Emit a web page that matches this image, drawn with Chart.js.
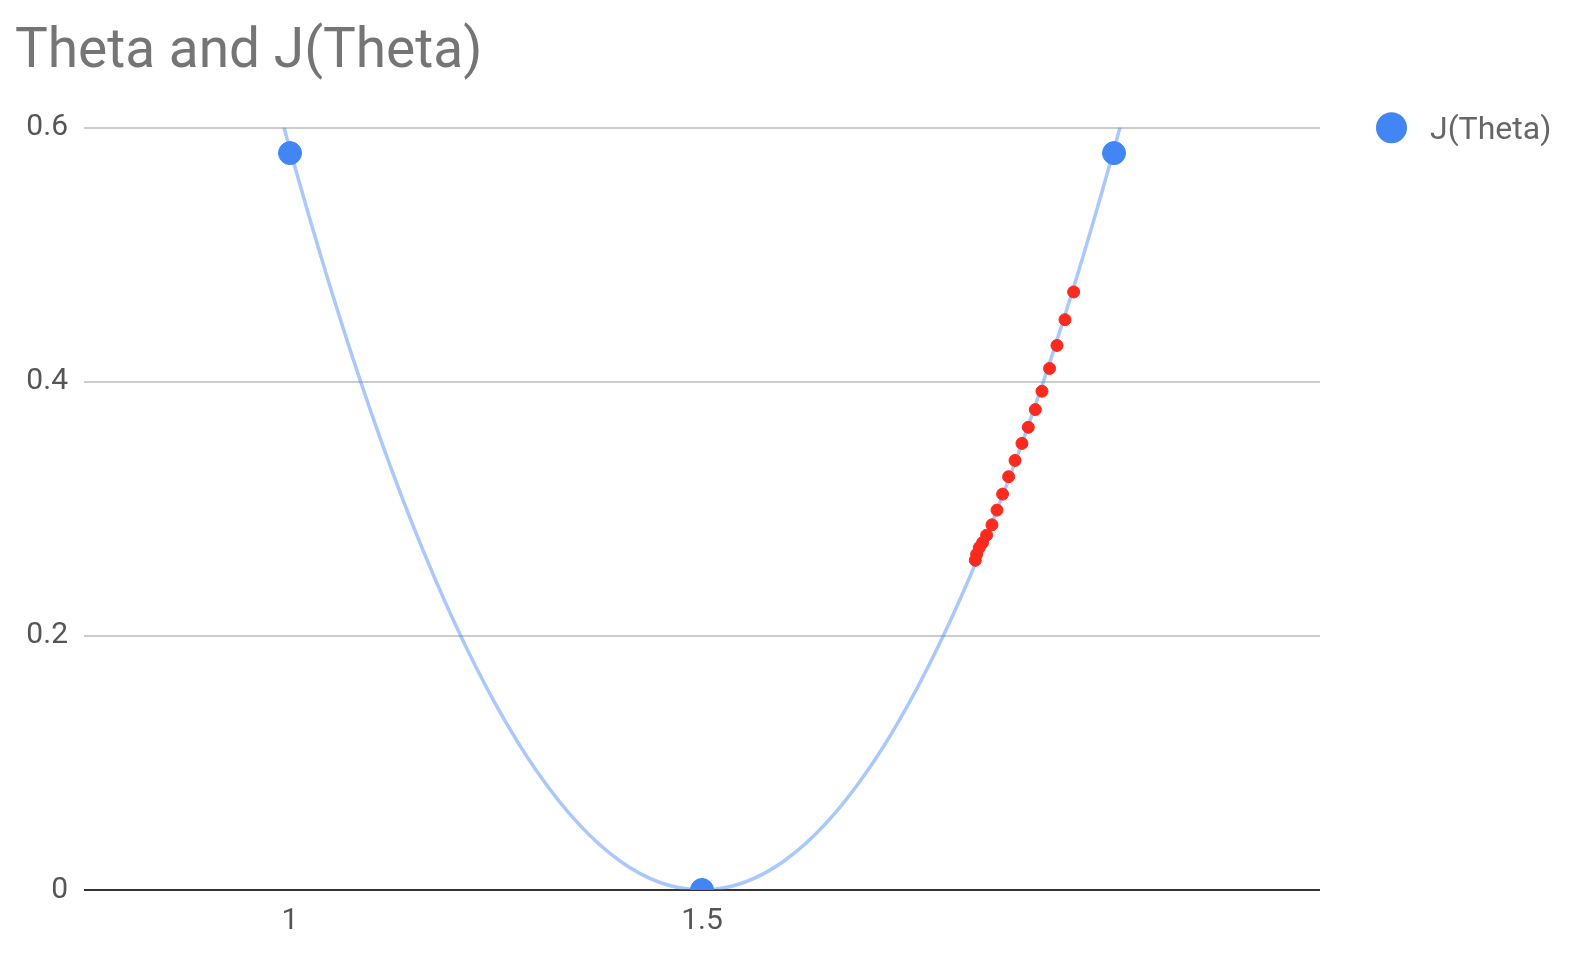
<!DOCTYPE html>
<html>
<head>
<meta charset="utf-8">
<title>Theta and J(Theta)</title>
<script src="https://cdn.jsdelivr.net/npm/chart.js@4.4.1/dist/chart.umd.min.js"></script>
<style>
    html, body { margin: 0; padding: 0; background: #fff; }
    #wrap { position: relative; width: 1580px; height: 954px; }
</style>
</head>
<body>
<div id="wrap"><canvas id="thetaChart"></canvas></div>
<script>
// J(Theta) samples (blue points)
const thetaValues = [1, 1.5, 2]
const costValues = [0.58, 0, 0.58]

// polynomial trendline
const trendTheta = [0.9, 1.0, 1.1, 1.2, 1.3, 1.4, 1.5, 1.6, 1.7, 1.8, 1.9, 2.0, 2.1]
const trendCost = [0.84, 0.583, 0.373, 0.21, 0.093, 0.023, 0, 0.023, 0.093, 0.21, 0.373, 0.583, 0.84]

// gradient descent steps (red dots)
const stepTheta = [1.951, 1.9405, 1.9308, 1.9218, 1.9126, 1.9045, 1.896, 1.8883, 1.8799, 1.8721,
    1.8648, 1.858, 1.8519, 1.8454, 1.8405, 1.8365, 1.8333, 1.8317]
const stepCost = [0.4707, 0.4489, 0.4286, 0.4105, 0.3926, 0.3781, 0.3642, 0.3515, 0.3381, 0.3253,
    0.3116, 0.299, 0.2874, 0.2793, 0.2734, 0.2695, 0.2643, 0.2595]

// axis ticks
const xTicks = [1, 1.5]
const yTicks = [0, 0.2, 0.4, 0.6]

const toPoints = (xs, ys) => xs.map((x, i) => ({ x: x, y: ys[i] }))

const FONT = 'Roboto'

// legend drawn at the right side, next to the top gridline
const sideLegend = {
    id: 'sideLegend',
    afterDraw(chart) {
        const ds = chart.data.datasets[0]
        const ctx = chart.ctx
        const cx = chart.chartArea.right + 71.5
        const cy = chart.chartArea.top
        ctx.save()
        ctx.fillStyle = ds.backgroundColor
        ctx.beginPath()
        ctx.arc(cx, cy, 15.5, 0, Math.PI * 2)
        ctx.fill()
        ctx.font = '32px ' + FONT
        ctx.fillStyle = '#666'
        ctx.textBaseline = 'middle'
        ctx.fillText(ds.label, cx + 38.5, cy + 3)
        ctx.restore()
    },
}

const ctx = document.getElementById('thetaChart').getContext('2d')
new Chart(ctx, {
    type: 'scatter',
    data: {
        datasets: [
            {
                label: 'J(Theta)',
                data: toPoints(thetaValues, costValues),
                backgroundColor: '#4285f4',
                borderColor: '#4285f4',
                pointRadius: 11.5,
                pointHoverRadius: 11.5,
                clip: 0,
            },
            {
                label: 'steps',
                data: toPoints(stepTheta, stepCost),
                backgroundColor: '#fa2a1e',
                borderColor: '#fa2a1e',
                pointRadius: 6,
                clip: 0,
            },
            {
                label: 'trendline',
                data: toPoints(trendTheta, trendCost),
                showLine: true,
                borderColor: 'rgba(66, 133, 244, 0.45)',
                borderWidth: 3.5,
                pointRadius: 0,
                cubicInterpolationMode: 'monotone',
                clip: 0,
            },
        ],
    },
    options: {
        responsive: true,
        maintainAspectRatio: false,
        animation: false,
        layout: {
            padding: { left: 15, right: 260, top: 0, bottom: 2 },
        },
        plugins: {
            legend: { display: false },
            tooltip: { enabled: false },
            title: {
                display: true,
                text: 'Theta and J(Theta)',
                align: 'start',
                color: '#757575',
                font: { family: FONT, size: 55, weight: 'normal' },
                padding: { top: 20, bottom: 41.7 },
            },
        },
        scales: {
            x: {
                type: 'linear',
                min: 0.75,
                max: 2.25,
                afterBuildTicks: (scale) => {
                    scale.ticks = xTicks.map((v) => ({ value: v }))
                },
                grid: { display: false, drawTicks: false },
                border: { display: false },
                ticks: {
                    color: '#555',
                    padding: 13,
                    maxRotation: 0,
                    font: { family: FONT, size: 30 },
                    callback: (v) => String(v),
                },
            },
            y: {
                type: 'linear',
                min: 0,
                max: 0.6,
                afterBuildTicks: (scale) => {
                    scale.ticks = yTicks.map((v) => ({ value: v }))
                },
                afterFit: (scale) => {
                    scale.width = 69
                },
                grid: {
                    drawTicks: false,
                    lineWidth: 2,
                    color: (c) => (c.tick && c.tick.value === 0 ? '#333' : '#ccc'),
                },
                border: { display: false },
                ticks: {
                    color: '#555',
                    padding: 16,
                    font: { family: FONT, size: 30 },
                    callback: (v) => String(v),
                },
            },
        },
    },
    plugins: [sideLegend],
})
</script>
</body>
</html>
